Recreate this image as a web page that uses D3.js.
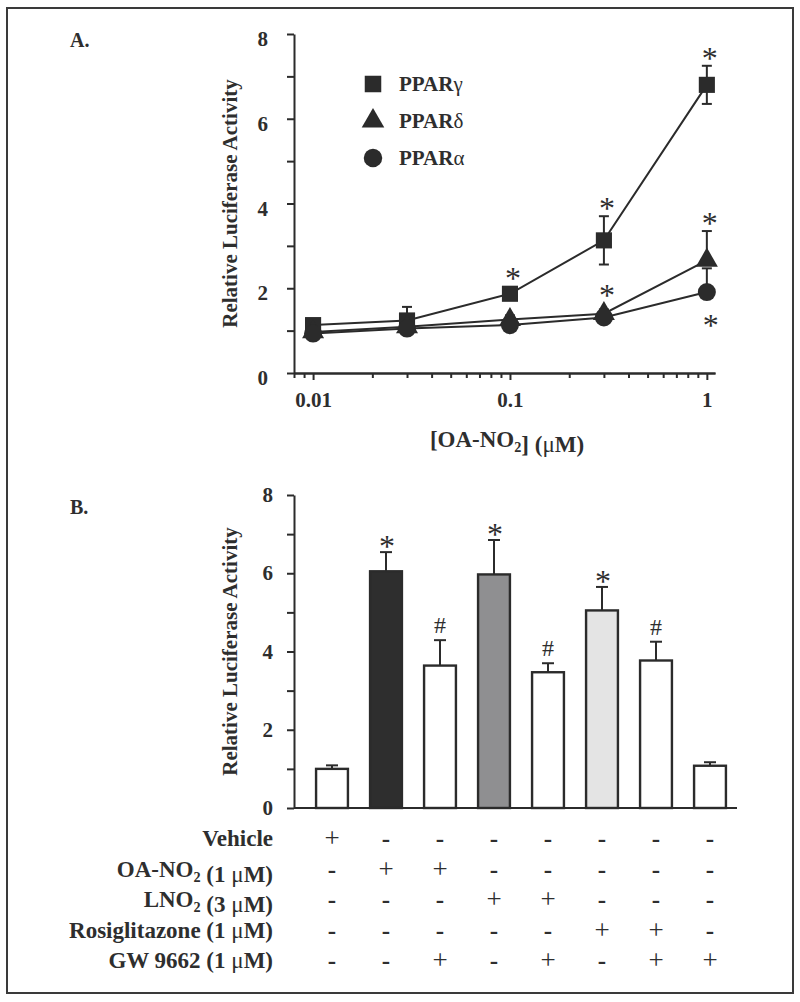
<!DOCTYPE html>
<html>
<head>
<meta charset="utf-8">
<script src="https://cdn.jsdelivr.net/npm/d3@7"></script>
<style>
  body { margin: 0; background: #fff; }
  svg text { font-family: 'Liberation Serif', 'Times New Roman', serif; font-weight: bold; fill: #2e2e2e; }
</style>
</head>
<body>
<svg id="fig" width="800" height="1002"></svg>
<script>
// ---- panel A data: luciferase activity vs [OA-NO2]
var concs = [0.01, 0.03, 0.1, 0.3, 1];
var pparG = [1.13, 1.24, 1.87, 3.13, 6.8];
var pparGErr = [0.05, 0.32, 0.08, 0.57, 0.45];
var pparD = [0.97, 1.09, 1.26, 1.4, 2.66];
var pparDErr = [0.1, 0.12, 0.1, 0.1, 0.69];
var pparA = [0.93, 1.05, 1.13, 1.31, 1.91];
var pparAErr = [0.06, 0.08, 0.06, 0.07, 0.56];
var starsG = [2, 3, 4];      // points marked * above
var starsD = [3, 4];
var starsABelow = [4];       // * drawn under the point
var xTicksA = [0.01, 0.1, 1];
var yTicksA = [0, 1, 2, 3, 4, 5, 6, 7, 8];

// ---- panel B data: bars
var barVals = [1.0, 6.05, 3.64, 5.97, 3.47, 5.05, 3.77, 1.08];
var barErrs = [0.09, 0.49, 0.65, 0.88, 0.23, 0.6, 0.48, 0.09];
var barMarks = ["", "*", "#", "*", "#", "*", "#", ""];
var yTicksB = [0, 1, 2, 3, 4, 5, 6, 7, 8];
var rowLabels = ["Vehicle", "OA-NO2 (1 μM)", "LNO2 (3 μM)", "Rosiglitazone (1 μM)", "GW 9662 (1 μM)"];
var treatment = [
    "+-------",
    "-++-----",
    "---++---",
    "-----++-",
    "--+-+-++"
];

var ink = "#2b2b2b";
var barFills = ["#fff", "#2e2e2e", "#fff", "#8f8f91", "#fff", "#e4e4e4", "#fff", "#fff"];

var svg = d3.select("#fig");

svg.append("rect")
    .attr("x", 7).attr("y", 8)
    .attr("width", 786).attr("height", 985)
    .attr("fill", "none")
    .attr("stroke", "#3a3a3a")
    .attr("stroke-width", 2);

// writes "OA-NO2 ..." style strings with the 2 as a subscript and non-bold greek
function richText(sel, str, size) {
    var parts = str.split(/(NO2|μ|γ|δ|α)/);
    parts.forEach(function (p) {
        if (!p) return;
        if (p === "NO2") {
            sel.append("tspan").text("NO");
            sel.append("tspan").attr("dy", 5).style("font-size", (size * 0.62) + "px").text("2");
            sel.append("tspan").attr("dy", -5).text("");
        } else if (p === "μ" || p === "γ" || p === "δ" || p === "α") {
            sel.append("tspan").style("font-weight", "normal").text(p);
        } else {
            sel.append("tspan").text(p);
        }
    });
}

function styleAxis(g, fontSize) {
    g.attr("color", ink);
    g.select(".domain").attr("stroke-width", 2);
    g.selectAll(".tick line").attr("stroke-width", 2);
    g.selectAll("text").style("font-size", fontSize + "px");
}

// ================= Panel A =================
var xA = d3.scaleLog().domain([0.008, 1.1]).range([294, 715]);
var yA = d3.scaleLinear().domain([0, 8]).range([373, 34]);
var gA = svg.append("g");

gA.append("text").attr("x", 70).attr("y", 47).style("font-size", "20px").text("A.");

var minorA = xA.ticks().filter(function (t) {
    var l = Math.log10(t);
    return Math.abs(l - Math.round(l)) > 1e-6;
});

gA.append("g")
    .attr("transform", "translate(0," + yA(0) + ")")
    .call(d3.axisBottom(xA).tickValues(minorA).tickSize(5).tickSizeOuter(0).tickFormat(""))
    .call(styleAxis, 21);

gA.append("g")
    .attr("transform", "translate(0," + yA(0) + ")")
    .call(d3.axisBottom(xA).tickValues(xTicksA).tickSize(7).tickSizeOuter(0).tickPadding(12)
        .tickFormat(function (d) { return String(d); }))
    .call(styleAxis, 21);

gA.append("g")
    .attr("transform", "translate(" + xA.range()[0] + ",0)")
    .call(d3.axisLeft(yA).tickValues(yTicksA).tickSize(7).tickSizeOuter(0).tickPadding(19)
        .tickFormat(function (d) { return d % 2 ? "" : d; }))
    .call(styleAxis, 21)
    .selectAll("text").attr("dy", "0.55em");

gA.append("text")
    .attr("transform", "translate(237," + (yA(4)) + ") rotate(-90)")
    .attr("text-anchor", "middle")
    .style("font-size", "21px")
    .text("Relative Luciferase Activity");

var xLab = gA.append("text")
    .attr("x", 507).attr("y", 447)
    .attr("text-anchor", "middle")
    .style("font-size", "23px");
richText(xLab, "[OA-NO2] (μM)", 23);

var seriesA = [
    { name: "PPARγ", vals: pparG, errs: pparGErr, down: true, sym: d3.symbolSquare, size: 260, half: 8, stars: starsG, below: [] },
    { name: "PPARδ", vals: pparD, errs: pparDErr, down: false, sym: d3.symbolTriangle, size: 210, half: 11, stars: starsD, below: [] },
    { name: "PPARα", vals: pparA, errs: pparAErr, down: false, sym: d3.symbolCircle, size: 255, half: 9, stars: [], below: starsABelow }
];

var line = d3.line()
    .x(function (d, i) { return xA(concs[i]); })
    .y(function (d) { return yA(d); });

seriesA.forEach(function (s) {
    gA.append("path")
        .attr("d", line(s.vals))
        .attr("fill", "none")
        .attr("stroke", ink)
        .attr("stroke-width", 2);
});

seriesA.forEach(function (s) {
    var eg = gA.append("g").attr("stroke", ink).attr("stroke-width", 2);
    s.vals.forEach(function (v, i) {
        var cx = xA(concs[i]), e = s.errs[i];
        var lo = s.down ? v - e : v;
        eg.append("line").attr("x1", cx).attr("x2", cx).attr("y1", yA(lo)).attr("y2", yA(v + e));
        eg.append("line").attr("x1", cx - 5).attr("x2", cx + 5).attr("y1", yA(v + e)).attr("y2", yA(v + e));
        if (s.down) {
            eg.append("line").attr("x1", cx - 5).attr("x2", cx + 5).attr("y1", yA(lo)).attr("y2", yA(lo));
        }
    });
});

seriesA.forEach(function (s) {
    gA.append("g").selectAll("path")
        .data(s.vals)
        .enter().append("path")
        .attr("transform", function (d, i) { return "translate(" + xA(concs[i]) + "," + yA(d) + ")"; })
        .attr("d", d3.symbol().type(s.sym).size(s.size))
        .attr("fill", ink);

    s.stars.forEach(function (i) {
        var v = s.vals[i], e = s.errs[i];
        var top = Math.min(yA(v) - s.half, yA(v + e));
        gA.append("text")
            .attr("x", xA(concs[i]) + 3)
            .attr("y", top - 12 + 15)
            .attr("text-anchor", "middle")
            .style("font-size", "32px").style("font-weight", "normal")
            .text("*");
    });
    s.below.forEach(function (i) {
        gA.append("text")
            .attr("x", xA(concs[i]) + 4)
            .attr("y", yA(s.vals[i]) + 29 + 15)
            .attr("text-anchor", "middle")
            .style("font-size", "32px").style("font-weight", "normal")
            .text("*");
    });
});

// legend
var legY = d3.scalePoint().domain(seriesA.map(function (s) { return s.name; })).range([84, 158]);
seriesA.forEach(function (s) {
    gA.append("path")
        .attr("transform", "translate(373," + legY(s.name) + ")")
        .attr("d", d3.symbol().type(s.sym).size(s.size * 1.05))
        .attr("fill", ink);
    var t = gA.append("text")
        .attr("x", 399).attr("y", legY(s.name) + 7)
        .style("font-size", "21px");
    richText(t, s.name, 21);
});

// ================= Panel B =================
var xB = d3.scaleBand().domain(d3.range(barVals.length)).range([305, 737]).paddingInner(0.41).paddingOuter(0.205);
var yB = d3.scaleLinear().domain([0, 8]).range([808, 495]);
var gB = svg.append("g");

gB.append("text").attr("x", 70).attr("y", 514).style("font-size", "20px").text("B.");

gB.append("g")
    .attr("transform", "translate(294,0)")
    .call(d3.axisLeft(yB).tickValues(yTicksB).tickSize(7).tickSizeOuter(0).tickPadding(14)
        .tickFormat(function (d) { return d % 2 ? "" : d; }))
    .call(styleAxis, 21);

gB.append("line")
    .attr("x1", 294).attr("x2", 737)
    .attr("y1", yB(0)).attr("y2", yB(0))
    .attr("stroke", ink).attr("stroke-width", 2);

gB.append("text")
    .attr("transform", "translate(237," + yB(4) + ") rotate(-90)")
    .attr("text-anchor", "middle")
    .style("font-size", "21px")
    .text("Relative Luciferase Activity");

var bw = xB.bandwidth();
var errG = gB.append("g").attr("stroke", ink).attr("stroke-width", 2);
barVals.forEach(function (v, i) {
    var cx = xB(i) + bw / 2, top = yB(v + barErrs[i]);
    errG.append("line").attr("x1", cx).attr("x2", cx).attr("y1", yB(v)).attr("y2", top);
    errG.append("line").attr("x1", cx - 6).attr("x2", cx + 6).attr("y1", top).attr("y2", top);
});

gB.selectAll("rect.bar")
    .data(barVals)
    .enter().append("rect")
    .attr("class", "bar")
    .attr("x", function (d, i) { return xB(i); })
    .attr("y", function (d) { return yB(d); })
    .attr("width", bw)
    .attr("height", function (d) { return yB(0) - yB(d); })
    .attr("fill", function (d, i) { return barFills[i]; })
    .attr("stroke", ink)
    .attr("stroke-width", 2.4);

barMarks.forEach(function (m, i) {
    if (!m) return;
    var cx = xB(i) + bw / 2, top = yB(barVals[i] + barErrs[i]);
    if (m === "*") {
        gB.append("text").attr("x", cx + 1).attr("y", top - 10 + 15)
            .attr("text-anchor", "middle")
            .style("font-size", "32px").style("font-weight", "normal").text("*");
    } else {
        gB.append("text").attr("x", cx).attr("y", top - 15 + 8)
            .attr("text-anchor", "middle")
            .style("font-size", "24px").style("font-weight", "normal").text("#");
    }
});

// treatment table
var rowY = d3.scalePoint().domain(d3.range(rowLabels.length)).range([839, 961]);
rowLabels.forEach(function (lab, r) {
    var t = gB.append("text")
        .attr("x", 273).attr("y", rowY(r) + 7)
        .attr("text-anchor", "end")
        .style("font-size", "23px");
    richText(t, lab, 23);
    treatment[r].split("").forEach(function (c, i) {
        gB.append("text")
            .attr("x", xB(i) + bw / 2).attr("y", rowY(r) + 8)
            .attr("text-anchor", "middle")
            .style("font-size", c === "+" ? "27px" : "25px")
            .style("font-weight", c === "+" ? "normal" : "bold")
            .text(c);
    });
});
</script>
</body>
</html>
